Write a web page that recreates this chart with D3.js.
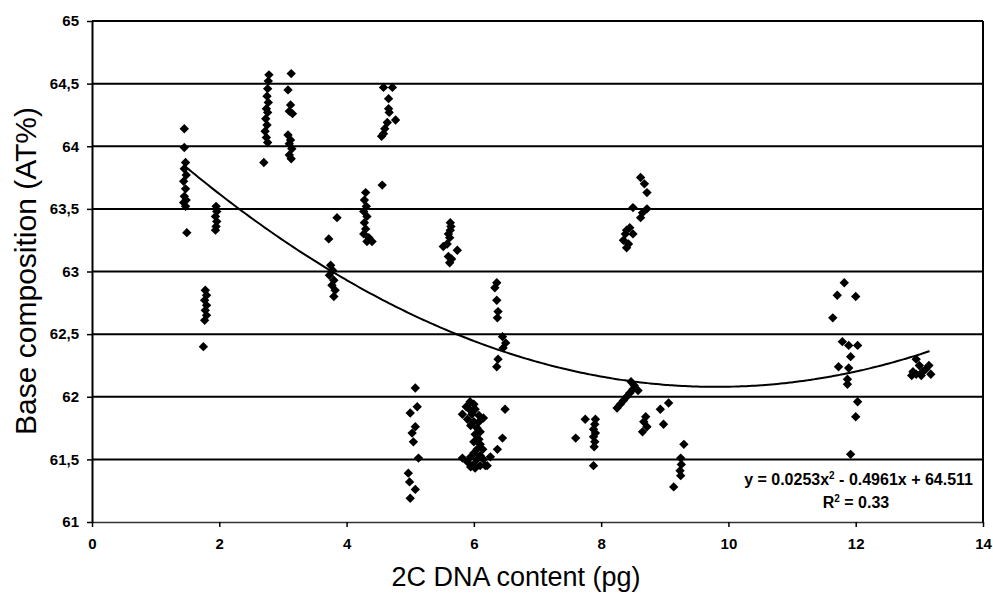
<!DOCTYPE html>
<html>
<head>
<meta charset="utf-8">
<script src="https://cdn.jsdelivr.net/npm/d3@7"></script>
<style>
  body { margin: 0; background: #fff; }
  text { font-family: Arial, "Liberation Sans", sans-serif; fill: #000; }
</style>
</head>
<body>
<div id="chart"></div>
<script>
// measured samples: [2C DNA content (pg), AT%]
const groupA = [[1.45,64.14],[1.45,63.99],[1.47,63.87],[1.45,63.82],[1.48,63.77],[1.44,63.72],[1.47,63.66],[1.45,63.6],[1.48,63.57],[1.44,63.55],[1.47,63.52],[1.49,63.31]];
const groupB = [[1.78,62.85],[1.8,62.81],[1.77,62.77],[1.8,62.73],[1.78,62.69],[1.8,62.65],[1.77,62.61],[1.75,62.4]];
const groupC = [[1.95,63.52],[1.96,63.48],[1.94,63.44],[1.96,63.4],[1.95,63.36],[1.94,63.33]];
const groupD = [[2.78,64.57],[2.77,64.52],[2.76,64.46],[2.75,64.4],[2.77,64.35],[2.74,64.3],[2.76,64.27],[2.73,64.22],[2.75,64.17],[2.72,64.12],[2.74,64.07],[2.76,64.03],[2.7,63.87]];
const groupE = [[3.13,64.58],[3.08,64.45],[3.12,64.33],[3.1,64.28],[3.15,64.26],[3.08,64.09],[3.12,64.05],[3.1,64.02],[3.14,63.98],[3.1,63.93],[3.13,63.9]];
const groupF = [[3.85,63.43],[3.72,63.26],[3.75,63.05],[3.78,63.01],[3.73,62.97],[3.8,62.93],[3.77,62.89],[3.82,62.85],[3.8,62.8]];
const groupG = [[4.3,63.63],[4.28,63.57],[4.31,63.52],[4.27,63.48],[4.32,63.44],[4.28,63.39],[4.3,63.34],[4.27,63.3],[4.35,63.27],[4.32,63.24],[4.4,63.24]];
const groupH = [[4.58,64.47],[4.72,64.47],[4.66,64.38],[4.66,64.3],[4.67,64.27],[4.77,64.21],[4.64,64.19],[4.6,64.14],[4.55,64.08],[4.58,64.1],[4.56,63.69]];
const groupI = [[5.08,62.07],[5.11,61.92],[5.0,61.87],[5.08,61.76],[5.03,61.71],[5.05,61.64],[5.13,61.51],[4.97,61.39],[4.99,61.32],[5.08,61.26],[5.0,61.19]];
const groupJ = [[5.63,63.39],[5.64,63.36],[5.63,63.33],[5.6,63.3],[5.62,63.27],[5.52,63.2],[5.58,63.22],[5.74,63.17],[5.6,63.12],[5.62,63.07],[5.65,63.1]];
const groupK = [[6.36,62.91],[6.33,62.87],[6.36,62.77],[6.38,62.68],[6.37,62.63],[6.45,62.48],[6.5,62.43],[6.46,62.39],[6.38,62.3],[6.36,62.24]];
const groupL = [[5.94,61.96],[6.0,61.94],[5.88,61.92],[5.93,61.9],[6.02,61.9],[5.82,61.86],[5.97,61.86],[6.08,61.85],[6.15,61.83],[5.9,61.82],[6.0,61.8],[6.08,61.8],[5.95,61.77],[6.05,61.75],[6.1,61.72],[6.02,61.7],[6.08,61.66],[6.0,61.64],[6.1,61.62],[6.05,61.58],[6.14,61.58],[6.0,61.55],[6.1,61.53],[6.26,61.52],[5.95,61.52],[6.05,61.5],[6.15,61.5],[5.82,61.51],[5.9,61.48],[6.0,61.46],[6.1,61.45],[6.18,61.45],[5.95,61.44],[6.02,61.43],[6.21,61.45],[6.49,61.9],[6.45,61.67],[6.37,61.58]];
const groupM = [[7.6,61.67],[7.75,61.82],[7.91,61.82],[7.9,61.78],[7.88,61.74],[7.91,61.71],[7.88,61.68],[7.9,61.64],[7.89,61.6],[7.88,61.45]];
const groupN = [[8.62,63.75],[8.68,63.7],[8.72,63.63],[8.5,63.51],[8.72,63.5],[8.65,63.47],[8.62,63.43],[8.45,63.35],[8.4,63.33],[8.38,63.3],[8.35,63.25],[8.43,63.22],[8.4,63.19],[8.5,63.3]];
const groupP = [[8.25,61.91],[8.3,61.94],[8.35,61.97],[8.4,62.0],[8.45,62.03],[8.5,62.06],[8.47,62.12],[8.58,62.05],[8.52,62.09]];
const groupQ = [[8.7,61.84],[8.67,61.8],[8.72,61.76],[8.65,61.72],[8.93,61.9],[9.06,61.95],[8.98,61.78]];
const groupR = [[9.3,61.62],[9.25,61.51],[9.26,61.46],[9.24,61.41],[9.25,61.37],[9.14,61.28]];
const groupS = [[11.82,62.91],[11.71,62.81],[12.0,62.8],[11.64,62.63],[11.79,62.44],[11.89,62.41],[12.03,62.41],[11.92,62.32],[11.73,62.24],[11.89,62.23],[11.87,62.14],[11.87,62.1],[12.03,61.96],[12.0,61.84],[11.92,61.54]];
const groupT = [[12.95,62.3],[13.0,62.25],[12.9,62.2],[13.05,62.2],[13.15,62.25],[13.18,62.18],[12.95,62.18],[13.1,62.22],[12.88,62.17],[13.03,62.17]];

// polynomial trendline y = a x^2 + b x + c, drawn over the data range
const trendCoef = [0.0253, -0.4961, 64.511];
const trendRange = [1.47, 13.16];

const xTicks = [0, 2, 4, 6, 8, 10, 12, 14];
const yTicks = [61, 61.5, 62, 62.5, 63, 63.5, 64, 64.5, 65];

const allPoints = [].concat(groupA, groupB, groupC, groupD, groupE, groupF, groupG, groupH, groupI, groupJ,
    groupK, groupL, groupM, groupN, groupP, groupQ, groupR, groupS, groupT);

const W = 993, H = 594;
const plotL = 92, plotR = 983, plotT = 21, plotB = 522;

const svg = d3.select('#chart')
    .append('svg')
    .attr('width', W)
    .attr('height', H);

const x = d3.scaleLinear().domain([0, 14]).range([plotL, plotR]);
const y = d3.scaleLinear().domain([61, 65]).range([plotB, plotT]);

// gridlines
svg.append('g')
    .selectAll('line')
    .data(yTicks.slice(1))
    .enter()
    .append('line')
    .attr('x1', plotL).attr('x2', plotR)
    .attr('y1', d => y(d)).attr('y2', d => y(d))
    .attr('stroke', '#000')
    .attr('stroke-width', 2);

// right border
svg.append('line')
    .attr('x1', plotR).attr('x2', plotR)
    .attr('y1', plotT).attr('y2', plotB)
    .attr('stroke', '#000')
    .attr('stroke-width', 2);

const xAxis = svg.append('g')
    .attr('transform', `translate(0,${plotB})`)
    .call(d3.axisBottom(x).tickValues(xTicks).tickSize(5).tickPadding(11).tickSizeOuter(0));

const yAxis = svg.append('g')
    .attr('transform', `translate(${plotL},0)`)
    .call(d3.axisLeft(y).tickValues(yTicks).tickSize(5).tickPadding(8).tickSizeOuter(0)
        .tickFormat(d => String(d).replace('.', ',')));

[xAxis, yAxis].forEach(g => {
    g.attr('font-size', null).attr('font-family', null);
    g.selectAll('text')
        .style('font-size', '15px')
        .style('font-weight', 'bold')
        .attr('fill', '#000');
    g.selectAll('line').attr('stroke', '#000').attr('stroke-width', 1.5);
});
xAxis.select('.domain').attr('stroke', '#333').attr('stroke-width', 1.5);
yAxis.select('.domain').attr('stroke', '#000').attr('stroke-width', 2);

// points
const diamond = d3.symbol().type(d3.symbolSquare).size(44);
svg.append('g')
    .selectAll('path')
    .data(allPoints)
    .enter()
    .append('path')
    .attr('d', diamond)
    .attr('transform', d => `translate(${x(d[0])},${y(d[1])}) rotate(45)`)
    .attr('fill', '#000');

// trendline
const trendX = d3.range(trendRange[0], trendRange[1], 0.05).concat([trendRange[1]]);
const trend = d3.line()
    .x(d => x(d))
    .y(d => y(trendCoef[0] * d * d + trendCoef[1] * d + trendCoef[2]))
    .curve(d3.curveBasis);
svg.append('path')
    .datum(trendX)
    .attr('d', trend)
    .attr('fill', 'none')
    .attr('stroke', '#000')
    .attr('stroke-width', 2);

// equation
const eq = svg.append('text')
    .attr('x', 973).attr('y', 485)
    .attr('text-anchor', 'end')
    .style('font-size', '16px')
    .style('font-weight', 'bold');
eq.append('tspan').text('y = 0.0253x');
eq.append('tspan').attr('dy', -6).style('font-size', '10px').text('2');
eq.append('tspan').attr('dy', 6).text(' - 0.4961x + 64.511');

const r2 = svg.append('text')
    .attr('x', 856).attr('y', 508)
    .attr('text-anchor', 'middle')
    .style('font-size', '16px')
    .style('font-weight', 'bold');
r2.append('tspan').text('R');
r2.append('tspan').attr('dy', -6).style('font-size', '10px').text('2');
r2.append('tspan').attr('dy', 6).text(' = 0.33');

// axis titles
svg.append('text')
    .attr('x', 516).attr('y', 586)
    .attr('text-anchor', 'middle')
    .style('font-size', '27px')
    .text('2C DNA content (pg)');

svg.append('text')
    .attr('transform', 'translate(36,271) rotate(-90)')
    .attr('text-anchor', 'middle')
    .style('font-size', '30px')
    .text('Base composition (AT%)');
</script>
</body>
</html>
